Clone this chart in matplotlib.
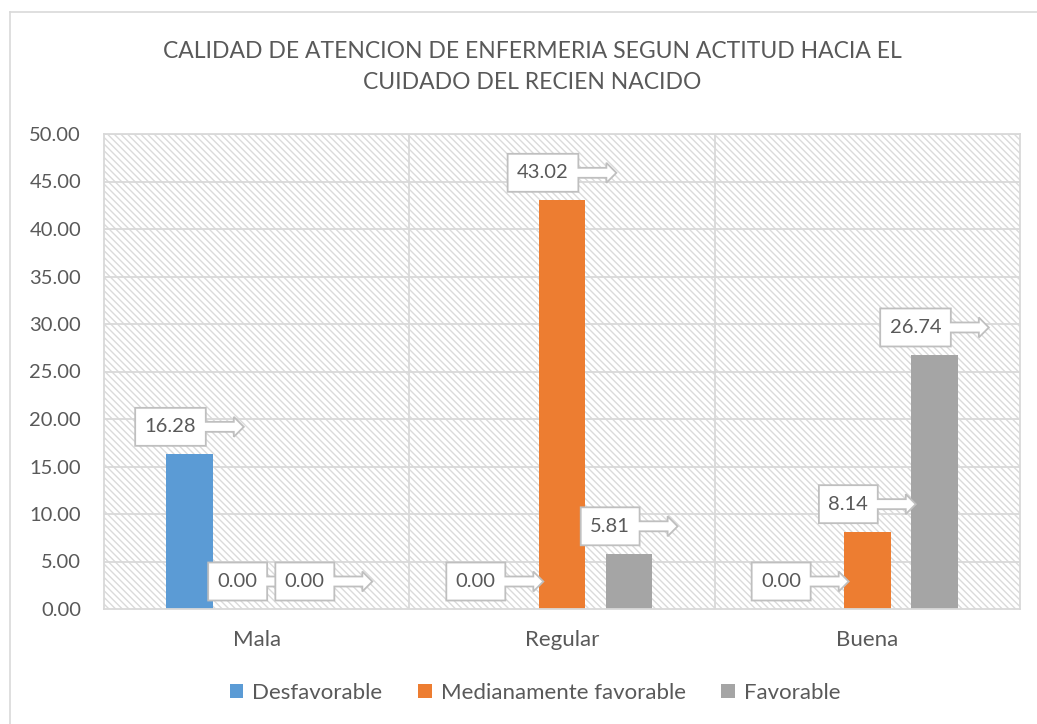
import matplotlib
matplotlib.use("Agg")
import matplotlib.pyplot as plt
import matplotlib.transforms as mtransforms
from matplotlib.patches import Rectangle, Polygon, Patch
from matplotlib.lines import Line2D
import numpy as np

categories = ["Mala", "Regular", "Buena"]
series_names = ["Desfavorable", "Medianamente favorable", "Favorable"]
desfavorable = [16.28, 0.00, 0.00]
medianamente = [0.00, 43.02, 8.14]
favorable = [0.00, 5.81, 26.74]
yticks = [0, 5, 10, 15, 20, 25, 30, 35, 40, 45, 50]
title = "CALIDAD DE ATENCION DE ENFERMERIA SEGUN ACTITUD HACIA EL\nCUIDADO DEL RECIEN NACIDO"

colors = ["#5B9BD5", "#ED7D31", "#A5A5A5"]
text_col = "#595959"
grid_col = "#D9D9D9"
FONT = "Lato"
FS = 14.5      # numbers
FS_TXT = 16    # words

plt.rcParams["font.family"] = [FONT, "DejaVu Sans"]
plt.rcParams["hatch.linewidth"] = 1.0

W, H = 1037, 724
DPI = 100
fig = plt.figure(figsize=(W / DPI, H / DPI), dpi=DPI)
fig.patch.set_facecolor("white")

# chart border (left & top visible)
fig.add_artist(Line2D([10 / W, 10 / W], [0, 1 - 12 / H], transform=fig.transFigure, color=grid_col, lw=1.2))
fig.add_artist(Line2D([10 / W, 1], [1 - 12 / H, 1 - 12 / H], transform=fig.transFigure, color=grid_col, lw=1.2))

ax = fig.add_axes([104 / W, (H - 609) / H, (1020 - 104) / W, (609 - 134) / H])
ax.set_xlim(-0.5, 2.5)
ax.set_ylim(0, 50)

# hatched background
bg = Rectangle((0, 0), 1, 1, transform=ax.transAxes, facecolor="white",
               edgecolor="#DADADA", hatch="\\\\\\\\\\", lw=0, zorder=0)
ax.add_patch(bg)
ax.set_facecolor("white")

for y in yticks[1:]:
    ax.axhline(y, color=grid_col, lw=1.3, zorder=1)
for xv in [0.5, 1.5]:
    ax.axvline(xv, color=grid_col, lw=1.3, zorder=1)

for sp in ax.spines.values():
    sp.set_color(grid_col)
    sp.set_linewidth(1.3)

x = np.arange(len(categories))
offsets = [-0.22, 0.0, 0.22]
width = 0.152
all_series = [desfavorable, medianamente, favorable]
for vals, off, c in zip(all_series, offsets, colors):
    ax.bar(x + off, vals, width=width, color=c, zorder=2)

ax.set_yticks(yticks)
ax.set_yticklabels([f"{v:.2f}" for v in yticks])
ax.set_xticks(x)
ax.set_xticklabels(categories)
ax.tick_params(axis="y", length=0, pad=16.5, labelsize=FS, labelcolor=text_col)
ax.tick_params(axis="x", length=0, pad=15, labelsize=FS_TXT, labelcolor=text_col)

# callout labels
fig.canvas.draw()
renderer = fig.canvas.get_renderer()
px = 1.0 / DPI
box_h = 38
pad_x = 9.5
shaft_len, head_len = 28, 10
shaft_h, head_h = 10, 20
gap = 8.5
z = 5
for vals, off in zip(all_series, offsets):
    for xi, v in zip(x, vals):
        xc = xi + off
        lab = f"{v:.2f}"
        base = fig.dpi_scale_trans + mtransforms.ScaledTranslation(xc, v, ax.transData)
        t = ax.text(0, 0, lab, transform=base, fontsize=FS, color=text_col,
                    ha="center", va="center", zorder=z + 1)
        bb = t.get_window_extent(renderer)
        bw = bb.width + 2 * pad_x
        total = bw + shaft_len + head_len
        L = -total / 2
        B = gap
        T = B + box_h
        R = L + bw
        cy = (B + T) / 2
        verts = [
            (L, B), (R, B), (R, cy - shaft_h / 2),
            (R + shaft_len, cy - shaft_h / 2), (R + shaft_len, cy - head_h / 2),
            (R + shaft_len + head_len, cy), (R + shaft_len, cy + head_h / 2),
            (R + shaft_len, cy + shaft_h / 2), (R, cy + shaft_h / 2), (R, T), (L, T),
        ]
        verts = [(a * px, b * px) for a, b in verts]
        poly = Polygon(verts, closed=True, transform=base, facecolor="white",
                       edgecolor="#BFBFBF", lw=1.3, zorder=z, clip_on=False)
        ax.add_patch(poly)
        t.set_position(((L + bw / 2) * px, cy * px))
        z += 2

fig.text(532 / W, 1 - 67 / H, title, ha="center", va="center", fontsize=16.5,
         color=text_col, fontweight="normal", linespacing=1.6)

handles = [Patch(facecolor=c, edgecolor="none") for c in colors]
fig.legend(handles, series_names, loc="center", bbox_to_anchor=(535 / W, 1 - 693 / H),
           ncol=3, frameon=False, fontsize=FS_TXT, labelcolor=text_col,
           handlelength=0.62, handleheight=0.62, handletextpad=0.4, columnspacing=1.6)

fig.savefig("out.png", dpi=DPI, facecolor="white")
